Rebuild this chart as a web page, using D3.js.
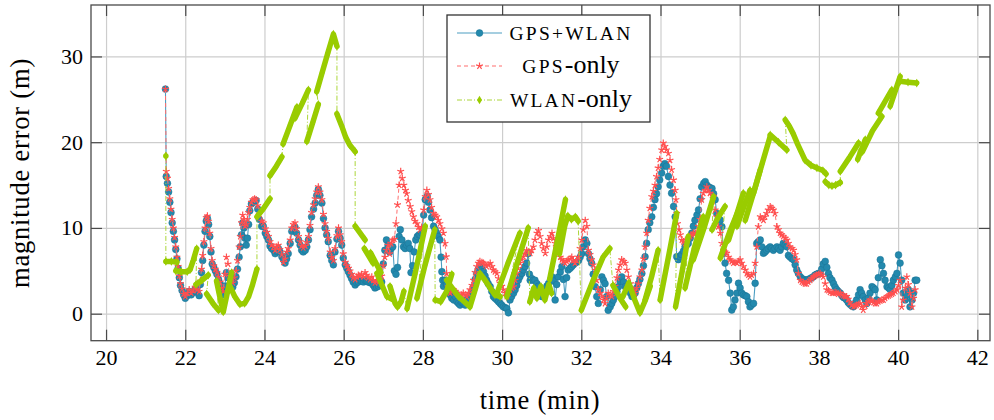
<!DOCTYPE html>
<html><head><meta charset="utf-8">
<script src="https://cdn.jsdelivr.net/npm/d3@7"></script>
<style>
body{margin:0;background:#fff}
svg{display:block}
text{font-family:"Liberation Serif","Times New Roman",serif;fill:#000}
</style></head><body>
<svg id="c" width="994" height="420"></svg>
<script>
// ---------------- data ----------------
const xTicks = [20,22,24,26,28,30,32,34,36,38,40,42];
const yTicks = [0,10,20,30];
const xLabel = "time (min)";
const yLabel = "magnitude error (m)";
const legendLabels = [["GPS+WLAN",""],["GPS","-only"],["WLAN","-only"]];

// GPS+WLAN : [time (min), error (m)]
const gpsWlan = [[21.50,26.2],[21.52,16.0],[21.55,15.2],[21.58,14.2],[21.61,13.0],[21.64,11.8],[21.67,10.6],[21.70,9.6],[21.73,8.6],[21.76,7.5],[21.79,6.4],[21.82,5.3],[21.85,4.2],[21.88,3.3],[21.92,2.7],[21.96,2.2],[22.00,1.8],[22.05,2.1],[22.10,2.6],[22.15,2.2],[22.20,2.5],[22.25,2.9],[22.30,2.5],[22.35,2.1],[22.38,3.4],[22.41,4.8],[22.44,6.2],[22.47,8.0],[22.50,9.6],[22.53,10.8],[22.56,11.1],[22.59,10.4],[22.62,9.0],[22.65,7.2],[22.68,5.8],[22.72,5.4],[22.76,5.0],[22.80,4.6],[22.84,4.0],[22.88,3.5],[22.92,2.8],[22.96,2.2],[23.00,3.2],[23.04,4.8],[23.08,4.2],[23.12,3.4],[23.16,2.9],[23.20,3.1],[23.24,3.6],[23.28,4.3],[23.32,5.2],[23.36,6.6],[23.39,7.8],[23.42,9.2],[23.45,10.6],[23.48,10.0],[23.51,8.8],[23.54,8.0],[23.57,8.8],[23.60,10.4],[23.63,12.0],[23.67,12.8],[23.71,13.0],[23.75,13.1],[23.79,13.2],[23.83,12.2],[23.87,11.0],[23.93,10.2],[23.97,10.2],[24.02,9.4],[24.06,9.0],[24.10,8.6],[24.14,7.9],[24.18,7.6],[24.23,7.4],[24.27,7.0],[24.31,7.3],[24.35,7.6],[24.39,7.2],[24.44,6.65],[24.48,6.3],[24.52,5.9],[24.56,6.4],[24.60,7.0],[24.65,8.2],[24.69,9.6],[24.73,9.9],[24.77,10.1],[24.81,9.4],[24.86,8.6],[24.90,8.0],[24.94,7.4],[24.98,7.2],[25.03,7.4],[25.07,7.8],[25.11,8.6],[25.15,9.8],[25.19,11.3],[25.24,12.2],[25.28,12.9],[25.32,13.8],[25.36,14.5],[25.40,13.8],[25.45,12.9],[25.49,11.1],[25.53,10.0],[25.57,9.2],[25.61,8.4],[25.66,6.8],[25.70,6.2],[25.74,5.7],[25.78,7.2],[25.83,8.7],[25.87,9.6],[25.91,8.8],[25.95,8.0],[25.99,6.5],[26.04,5.7],[26.08,5.3],[26.12,4.9],[26.16,4.5],[26.20,4.1],[26.24,3.7],[26.29,3.35],[26.33,3.6],[26.37,3.7],[26.41,3.9],[26.45,3.8],[26.50,3.7],[26.54,3.9],[26.58,3.8],[26.62,3.7],[26.67,3.6],[26.71,3.6],[26.75,3.3],[26.79,3.0],[26.83,3.1],[26.88,3.2],[26.92,3.4],[26.96,3.7],[27.00,5.8],[27.04,7.4],[27.08,8.6],[27.12,8.0],[27.16,7.2],[27.20,7.6],[27.24,7.8],[27.28,5.0],[27.32,4.6],[27.36,5.4],[27.40,9.0],[27.43,9.8],[27.47,8.6],[27.51,7.8],[27.55,7.6],[27.59,8.0],[27.63,8.2],[27.67,7.6],[27.70,4.8],[27.74,5.6],[27.78,7.2],[27.82,8.6],[27.86,9.0],[27.90,9.2],[27.93,9.2],[27.97,9.4],[28.02,11.5],[28.06,13.3],[28.11,13.7],[28.14,13.0],[28.18,12.1],[28.22,11.2],[28.27,10.2],[28.31,9.8],[28.35,9.4],[28.39,9.0],[28.43,8.6],[28.46,6.6],[28.48,4.9],[28.50,3.9],[28.52,3.2],[28.56,3.9],[28.60,3.4],[28.65,2.8],[28.69,2.2],[28.73,1.8],[28.78,1.6],[28.82,2.0],[28.86,1.4],[28.90,1.2],[28.94,1.0],[28.98,1.3],[29.02,1.2],[29.07,1.0],[29.11,1.6],[29.15,1.8],[29.19,2.2],[29.24,2.6],[29.28,3.15],[29.32,4.0],[29.36,4.7],[29.40,5.2],[29.44,5.5],[29.49,5.2],[29.53,4.9],[29.57,4.4],[29.61,3.9],[29.65,3.5],[29.70,3.15],[29.74,2.6],[29.78,2.0],[29.82,1.8],[29.87,1.6],[29.91,1.4],[29.95,1.2],[29.99,1.0],[30.03,0.8],[30.08,0.7],[30.12,0.6],[30.16,0.1],[30.20,1.6],[30.24,2.0],[30.29,2.4],[30.33,2.8],[30.37,3.3],[30.41,3.9],[30.45,4.3],[30.50,4.7],[30.54,5.1],[30.58,5.5],[30.62,5.9],[30.66,7.0],[30.69,4.6],[30.71,3.9],[30.75,4.1],[30.79,3.9],[30.83,3.9],[30.88,3.5],[30.92,3.2],[30.96,2.6],[31.00,2.0],[31.04,2.4],[31.09,2.8],[31.13,3.2],[31.17,3.5],[31.22,3.9],[31.26,4.3],[31.30,3.8],[31.34,1.6],[31.38,3.4],[31.42,4.3],[31.47,4.9],[31.51,5.5],[31.55,4.0],[31.59,2.0],[31.63,4.2],[31.67,5.1],[31.72,5.3],[31.76,5.5],[31.80,5.7],[31.84,5.9],[31.88,6.0],[31.93,6.2],[31.97,6.6],[32.01,7.0],[32.05,7.8],[32.10,8.6],[32.14,8.2],[32.18,7.0],[32.22,6.4],[32.26,5.9],[32.30,4.6],[32.35,3.15],[32.39,2.0],[32.43,1.2],[32.48,2.8],[32.52,4.3],[32.56,3.9],[32.60,3.5],[32.64,2.0],[32.68,0.4],[32.73,0.8],[32.77,1.2],[32.81,1.6],[32.85,2.0],[32.90,2.6],[32.94,3.15],[32.98,3.8],[33.02,4.3],[33.07,3.7],[33.11,3.15],[33.15,3.0],[33.19,2.8],[33.24,2.4],[33.28,2.0],[33.32,2.2],[33.36,2.4],[33.40,3.0],[33.44,3.5],[33.48,4.0],[33.53,4.7],[33.57,5.6],[33.61,6.65],[33.65,8.2],[33.69,9.8],[33.73,10.6],[33.78,11.3],[33.82,12.4],[33.86,13.3],[33.90,14.0],[33.94,14.8],[33.98,15.6],[34.03,16.4],[34.07,17.2],[34.11,17.5],[34.15,17.2],[34.20,16.0],[34.24,15.0],[34.28,14.05],[34.33,12.5],[34.37,11.3],[34.41,6.65],[34.45,6.3],[34.49,6.65],[34.53,6.9],[34.58,7.3],[34.62,7.8],[34.66,8.0],[34.70,8.2],[34.75,8.8],[34.79,9.4],[34.83,10.2],[34.87,10.9],[34.92,11.5],[34.96,12.1],[35.00,13.4],[35.04,14.8],[35.09,15.2],[35.13,15.4],[35.17,15.0],[35.21,14.8],[35.25,14.7],[35.30,14.6],[35.34,14.0],[35.38,13.3],[35.42,11.7],[35.46,11.3],[35.51,10.9],[35.55,10.15],[35.59,7.05],[35.63,5.9],[35.67,4.7],[35.72,3.9],[35.76,2.4],[35.80,0.43],[35.84,0.8],[35.88,1.6],[35.93,2.4],[35.97,3.55],[36.01,3.0],[36.05,2.4],[36.09,2.2],[36.14,2.1],[36.18,2.0],[36.22,1.4],[36.26,0.8],[36.30,1.0],[36.35,1.2],[36.39,3.55],[36.43,8.2],[36.47,8.4],[36.52,8.6],[36.56,7.8],[36.60,7.05],[36.64,7.2],[36.68,7.4],[36.72,7.6],[36.77,7.8],[36.81,7.6],[36.85,7.4],[36.89,7.6],[36.94,7.8],[36.98,7.6],[37.02,7.4],[37.06,7.8],[37.10,8.2],[37.15,8.0],[37.19,7.8],[37.23,6.8],[37.27,6.6],[37.32,6.4],[37.36,6.3],[37.40,5.7],[37.44,5.1],[37.48,4.7],[37.53,4.3],[37.57,4.1],[37.61,4.0],[37.65,3.9],[37.69,3.9],[37.73,4.0],[37.78,4.1],[37.82,4.2],[37.86,4.3],[37.90,4.5],[37.94,4.6],[37.99,4.7],[38.03,4.7],[38.07,5.2],[38.11,5.8],[38.16,6.1],[38.20,5.4],[38.24,4.7],[38.28,4.2],[38.33,3.9],[38.37,3.5],[38.41,3.1],[38.45,2.8],[38.49,2.6],[38.54,2.4],[38.58,2.1],[38.62,1.9],[38.66,1.8],[38.70,1.6],[38.74,1.3],[38.78,1.1],[38.83,0.9],[38.87,0.8],[38.91,1.2],[38.95,1.6],[39.00,2.2],[39.04,2.8],[39.08,2.4],[39.12,2.0],[39.17,1.6],[39.21,1.2],[39.25,1.8],[39.29,2.4],[39.34,3.15],[39.38,3.0],[39.42,2.8],[39.46,1.6],[39.50,4.2],[39.55,6.3],[39.59,5.6],[39.63,4.7],[39.67,3.9],[39.72,3.15],[39.76,3.0],[39.80,2.8],[39.84,3.3],[39.88,3.9],[39.93,4.3],[39.97,4.7],[40.01,6.85],[40.05,5.9],[40.09,3.9],[40.13,2.4],[40.18,1.6],[40.22,2.2],[40.26,2.8],[40.30,0.8],[40.35,1.6],[40.39,2.4],[40.43,3.9],[40.47,3.9]];

// GPS-only : [time (min), error (m)]
const gpsOnly = [[21.50,26.2],[21.52,16.6],[21.55,15.8],[21.58,14.6],[21.61,13.4],[21.64,12.2],[21.67,11.0],[21.70,10.0],[21.73,8.9],[21.76,7.8],[21.79,6.6],[21.82,5.5],[21.85,4.4],[21.88,3.5],[21.92,2.9],[21.96,2.3],[22.00,2.0],[22.05,2.4],[22.10,2.8],[22.15,2.4],[22.20,2.7],[22.25,3.1],[22.30,2.8],[22.35,2.6],[22.38,3.8],[22.41,5.2],[22.44,6.8],[22.47,8.4],[22.50,10.0],[22.53,11.2],[22.56,11.4],[22.59,10.8],[22.62,9.4],[22.65,7.6],[22.68,6.2],[22.72,5.6],[22.76,5.2],[22.80,4.8],[22.84,4.3],[22.88,3.7],[22.92,3.0],[22.96,2.6],[23.00,4.6],[23.04,6.6],[23.08,5.8],[23.12,4.4],[23.16,3.8],[23.20,3.6],[23.24,4.2],[23.28,5.0],[23.32,6.2],[23.36,7.8],[23.39,9.0],[23.42,10.6],[23.45,11.5],[23.48,11.0],[23.51,10.2],[23.54,10.4],[23.57,11.0],[23.60,11.8],[23.63,12.4],[23.67,13.0],[23.71,13.3],[23.75,13.4],[23.79,13.3],[23.83,12.6],[23.87,11.6],[23.93,10.8],[23.97,10.6],[24.02,9.9],[24.06,9.5],[24.10,9.0],[24.14,8.4],[24.18,8.0],[24.23,7.8],[24.27,7.4],[24.31,7.8],[24.35,8.0],[24.39,7.5],[24.44,6.9],[24.48,6.0],[24.52,6.4],[24.56,7.2],[24.60,7.6],[24.65,8.6],[24.69,10.0],[24.73,10.4],[24.77,10.6],[24.81,9.9],[24.86,9.0],[24.90,8.4],[24.94,7.9],[24.98,7.7],[25.03,7.9],[25.07,8.3],[25.11,9.0],[25.15,10.3],[25.19,11.8],[25.24,12.7],[25.28,13.4],[25.32,14.2],[25.36,14.8],[25.40,14.2],[25.45,13.3],[25.49,11.6],[25.53,10.5],[25.57,9.6],[25.61,8.8],[25.66,7.2],[25.70,6.6],[25.74,6.2],[25.78,7.6],[25.83,9.1],[25.87,10.0],[25.91,9.2],[25.95,8.4],[25.99,7.0],[26.04,6.0],[26.08,5.6],[26.12,5.3],[26.16,5.0],[26.20,4.6],[26.24,4.2],[26.29,4.0],[26.33,4.3],[26.37,4.5],[26.41,4.4],[26.45,4.6],[26.50,4.3],[26.54,4.8],[26.58,4.5],[26.62,4.2],[26.67,4.0],[26.71,4.3],[26.75,3.9],[26.79,3.6],[26.83,3.8],[26.88,3.7],[26.92,3.9],[26.96,4.4],[27.00,5.6],[27.04,6.6],[27.08,7.4],[27.12,8.0],[27.16,7.0],[27.20,8.2],[27.24,8.6],[27.28,8.7],[27.32,10.5],[27.36,12.7],[27.40,15.0],[27.44,16.6],[27.48,15.8],[27.52,15.0],[27.56,14.4],[27.59,14.0],[27.63,13.2],[27.68,12.5],[27.72,11.9],[27.76,11.3],[27.80,10.8],[27.85,10.5],[27.89,10.1],[27.93,9.8],[27.97,10.1],[28.02,12.1],[28.06,13.65],[28.10,14.4],[28.14,13.9],[28.18,13.3],[28.22,12.4],[28.27,11.7],[28.31,11.5],[28.35,11.3],[28.39,10.9],[28.43,10.5],[28.48,9.9],[28.52,9.4],[28.56,8.2],[28.59,6.65],[28.60,4.7],[28.64,3.15],[28.69,2.4],[28.73,2.6],[28.77,2.8],[28.82,2.6],[28.86,2.4],[28.90,2.2],[28.94,2.0],[28.98,2.2],[29.02,2.4],[29.07,2.2],[29.11,2.0],[29.15,2.4],[29.19,2.8],[29.24,3.3],[29.28,3.9],[29.32,4.8],[29.36,5.5],[29.40,5.9],[29.44,6.1],[29.49,6.0],[29.53,5.9],[29.57,5.7],[29.61,5.5],[29.65,5.7],[29.70,5.9],[29.74,5.5],[29.78,5.1],[29.82,4.9],[29.87,4.7],[29.91,4.1],[29.95,3.55],[29.99,3.2],[30.03,2.8],[30.08,2.4],[30.12,2.0],[30.16,2.4],[30.20,2.8],[30.24,3.0],[30.29,3.15],[30.33,3.9],[30.37,4.7],[30.41,5.3],[30.45,5.9],[30.50,6.3],[30.54,6.65],[30.58,7.0],[30.62,7.4],[30.66,7.2],[30.71,7.05],[30.75,7.4],[30.79,7.8],[30.83,8.6],[30.88,9.4],[30.92,9.7],[30.96,9.0],[31.00,8.2],[31.04,7.6],[31.09,7.05],[31.13,7.8],[31.17,8.6],[31.22,9.0],[31.26,9.4],[31.30,8.8],[31.34,8.2],[31.38,7.6],[31.42,7.05],[31.47,6.6],[31.51,6.3],[31.55,6.1],[31.59,5.9],[31.63,6.1],[31.67,6.3],[31.72,6.4],[31.76,6.6],[31.80,6.2],[31.84,5.9],[31.88,6.2],[31.93,6.6],[31.97,7.6],[32.01,8.6],[32.05,9.8],[32.10,10.9],[32.14,10.2],[32.18,7.4],[32.22,6.9],[32.26,6.3],[32.30,5.7],[32.35,5.1],[32.39,3.9],[32.43,2.8],[32.48,2.4],[32.52,2.0],[32.56,1.6],[32.60,1.2],[32.64,1.8],[32.68,2.4],[32.73,2.2],[32.77,2.0],[32.81,2.6],[32.85,3.2],[32.90,4.2],[32.94,5.1],[32.98,5.7],[33.02,6.3],[33.07,6.1],[33.11,5.9],[33.15,5.1],[33.19,4.3],[33.24,3.5],[33.28,2.8],[33.32,2.6],[33.36,2.4],[33.40,3.0],[33.44,3.5],[33.48,4.3],[33.53,5.1],[33.57,6.4],[33.61,7.8],[33.65,9.4],[33.69,10.9],[33.73,12.3],[33.78,13.65],[33.82,14.3],[33.86,15.0],[33.90,16.0],[33.94,17.0],[33.98,18.0],[34.03,19.1],[34.07,19.9],[34.11,19.5],[34.15,19.1],[34.20,18.7],[34.24,17.9],[34.28,16.8],[34.33,15.6],[34.37,14.4],[34.39,13.3],[34.41,11.7],[34.43,10.5],[34.47,9.8],[34.50,9.2],[34.54,8.6],[34.58,8.4],[34.62,8.2],[34.66,8.6],[34.70,8.8],[34.75,9.0],[34.79,9.2],[34.83,9.4],[34.88,9.4],[34.92,9.4],[34.96,10.2],[35.00,11.0],[35.04,13.3],[35.08,14.05],[35.13,14.4],[35.17,14.8],[35.21,14.4],[35.25,14.05],[35.30,13.8],[35.34,13.65],[35.38,12.1],[35.42,11.3],[35.46,10.15],[35.51,9.4],[35.55,8.2],[35.59,7.4],[35.63,7.2],[35.67,7.05],[35.72,6.6],[35.76,6.3],[35.80,6.1],[35.84,5.9],[35.88,6.0],[35.93,5.9],[35.97,6.1],[36.01,6.3],[36.05,5.9],[36.09,5.5],[36.14,5.1],[36.18,4.7],[36.22,4.5],[36.26,4.3],[36.30,4.5],[36.35,4.7],[36.39,5.9],[36.43,7.8],[36.47,10.15],[36.52,11.3],[36.56,11.1],[36.60,10.9],[36.64,11.3],[36.68,11.7],[36.72,12.1],[36.77,12.5],[36.81,12.3],[36.85,12.1],[36.89,11.7],[36.94,10.15],[36.98,9.8],[37.02,9.4],[37.06,9.2],[37.10,9.0],[37.15,8.8],[37.19,8.6],[37.23,8.2],[37.27,7.8],[37.32,7.6],[37.36,7.4],[37.40,6.9],[37.44,6.3],[37.48,4.7],[37.53,3.9],[37.57,3.7],[37.61,3.6],[37.65,3.5],[37.69,3.5],[37.73,3.7],[37.78,3.9],[37.82,4.1],[37.86,4.3],[37.90,4.4],[37.94,4.5],[37.99,4.6],[38.03,4.7],[38.07,4.5],[38.11,4.3],[38.16,3.5],[38.20,2.8],[38.24,2.7],[38.28,2.5],[38.33,2.4],[38.37,2.4],[38.41,2.5],[38.45,2.4],[38.49,2.3],[38.54,2.4],[38.58,2.2],[38.62,2.1],[38.66,2.0],[38.70,2.0],[38.74,1.7],[38.78,1.3],[38.83,1.0],[38.87,0.8],[38.91,0.9],[38.95,1.0],[39.00,1.1],[39.04,1.2],[39.08,0.8],[39.12,0.43],[39.17,0.9],[39.21,1.2],[39.25,1.4],[39.29,1.6],[39.34,1.5],[39.38,1.3],[39.42,1.2],[39.46,1.2],[39.50,1.4],[39.55,1.5],[39.59,1.6],[39.63,1.6],[39.67,1.8],[39.72,2.0],[39.76,2.1],[39.80,2.2],[39.84,2.3],[39.88,2.4],[39.93,2.6],[39.97,2.8],[40.01,3.3],[40.05,3.9],[40.09,0.8],[40.13,1.6],[40.18,3.0],[40.22,4.3],[40.26,3.4],[40.30,2.4],[40.35,0.8],[40.39,1.8],[40.43,2.8]];

// WLAN-only : dense runs of samples [time (min), error (m)], in time order
const wlanOnlyRuns = [
 [[21.51,18.4]],
 [[21.51,6.1],[21.65,6.1],[21.79,6.0]],
 [[21.76,5.0],[21.90,4.9],[22.05,4.9],[22.12,5.1],[22.20,6.2],[22.29,7.6]],
 [[22.27,3.4],[22.42,3.9],[22.58,4.5]],
 [[22.54,2.3],[22.70,1.2],[22.84,0.4]],
 [[22.79,3.8],[22.88,1.8],[22.96,0.2],[23.06,2.4],[23.17,4.8]],
 [[23.13,3.2],[23.25,2.0],[23.38,1.1],[23.50,1.2],[23.60,2.0],[23.70,3.4],[23.81,5.2]],
 [[23.81,11.3],[23.98,12.3],[24.14,13.4]],
 [[24.14,16.1],[24.30,17.2],[24.44,18.3]],
 [[24.47,19.8],[24.65,22.0],[24.82,24.1]],
 [[24.77,22.8],[24.95,24.5],[25.11,26.1]],
 [[25.07,20.1],[25.22,22.3],[25.36,24.4]],
 [[25.32,25.9],[25.45,28.0],[25.60,30.4],[25.74,32.6],[25.83,31.2]],
 [[25.83,23.3],[25.95,21.9],[26.05,20.6],[26.15,19.7],[26.29,18.9]],
 [[26.29,10.2],[26.54,8.6]],
 [[26.52,7.6],[26.74,5.9]],
 [[26.68,7.1],[26.94,4.8]],
 [[26.84,4.7],[27.09,2.0],[27.26,1.6]],
 [[27.17,3.2],[27.30,1.2],[27.36,0.8],[27.45,1.4],[27.52,2.6]],
 [[27.60,0.6],[27.80,4.6],[28.06,10.2]],
 [[27.85,1.8],[28.05,5.6],[28.30,9.8]],
 [[28.31,1.6],[28.45,1.4],[28.60,2.6],[28.73,4.6]],
 [[28.60,3.9],[28.90,2.0],[29.19,0.8],[29.32,2.8],[29.44,4.7],[29.57,3.9],[29.70,3.0],[29.82,2.2],[29.95,2.0]],
 [[29.87,2.4],[30.15,5.9],[30.45,9.4]],
 [[30.12,2.0],[30.40,6.2],[30.66,10.0]],
 [[30.70,1.4],[30.80,3.0],[30.88,1.8],[30.98,3.2],[31.08,1.6],[31.18,3.4],[31.25,2.4]],
 [[31.20,4.0],[31.40,8.6],[31.60,13.3]],
 [[31.45,7.0],[31.58,10.2],[31.66,11.4],[31.75,11.0],[31.85,11.3],[31.92,10.8]],
 [[32.00,0.4],[32.30,3.9],[32.55,6.6],[32.72,7.6]],
 [[32.80,3.3],[32.98,1.8],[33.12,0.8]],
 [[33.05,2.0],[33.20,3.6],[33.35,1.6],[33.48,0.1],[33.62,1.6],[33.74,3.2]],
 [[33.61,1.6],[33.78,4.4],[33.94,7.4]],
 [[33.99,1.6],[34.20,6.6],[34.41,11.7]],
 [[34.38,0.8],[34.55,5.0],[34.70,9.0]],
 [[34.62,3.0],[34.85,7.6],[35.08,11.3]],
 [[34.83,6.3],[35.10,10.0],[35.34,13.65]],
 [[35.30,9.8],[35.45,11.2],[35.63,12.5]],
 [[35.51,6.5],[35.75,9.6],[36.01,12.5]],
 [[35.72,8.6],[35.90,11.2],[36.09,14.05]],
 [[35.93,10.2],[36.10,12.4],[36.26,14.4]],
 [[36.14,10.9],[36.33,13.8],[36.52,16.8]],
 [[36.35,14.05],[36.56,17.4],[36.77,20.7]],
 [[36.77,20.85],[36.98,20.0],[37.19,19.1]],
 [[37.15,22.6],[37.25,21.9],[37.35,21.0],[37.45,19.9],[37.55,18.9],[37.65,17.9],[37.80,17.3],[37.95,17.0],[38.10,16.7],[38.18,16.3]],
 [[38.16,15.4],[38.25,15.0],[38.33,14.9],[38.42,15.0],[38.54,15.3]],
 [[38.54,16.6],[38.77,18.2],[39.00,19.9]],
 [[38.98,18.0],[39.17,20.3]],
 [[39.10,18.9],[39.35,21.3],[39.59,23.0]],
 [[39.50,23.4],[39.84,26.1]],
 [[39.80,24.2],[40.05,27.65]],
 [[40.05,27.1],[40.25,27.0],[40.47,26.9]]
];

// ---------------- drawing ----------------
const plot = {left:91, right:990, top:5, bottom:340.7};
const x = d3.scaleLinear().domain([19.62, 42.32]).range([plot.left, plot.right]);
const y = d3.scaleLinear().domain([-3.15, 36.0]).range([plot.bottom, plot.top]);
const svg = d3.select("#c");

const C = {
  blue:"#2389ad", blueLine:"#4c9ec2", blueEdge:"#1b7395",
  red:"#ff4f4f", redLine:"#ff6e6e",
  green:"#99cc00", greenLine:"#acd63a",
  grid:"#cdcdcd", axis:"#4a4a4a"
};

// grid
svg.append("g").attr("transform",`translate(0,${plot.bottom})`)
  .call(d3.axisBottom(x).tickValues(xTicks).tickSize(-(plot.bottom-plot.top)).tickFormat(""))
  .call(g=>{g.select(".domain").remove();g.selectAll("line").attr("stroke",C.grid).attr("stroke-width",1.2);});
svg.append("g").attr("transform",`translate(${plot.left},0)`)
  .call(d3.axisLeft(y).tickValues(yTicks).tickSize(-(plot.right-plot.left)).tickFormat(""))
  .call(g=>{g.select(".domain").remove();g.selectAll("line").attr("stroke",C.grid).attr("stroke-width",1.2);});

// clip
svg.append("defs").append("clipPath").attr("id","clip").append("rect")
  .attr("x",plot.left).attr("y",plot.top).attr("width",plot.right-plot.left).attr("height",plot.bottom-plot.top);
const data = svg.append("g").attr("clip-path","url(#clip)");

const line = d3.line().x(d=>x(d[0])).y(d=>y(d[1]));

function starPath(s){
  let p="";
  for(let k=0;k<5;k++){const a=(-90+72*k)*Math.PI/180;p+=`M0,0L${(s*Math.cos(a)).toFixed(2)},${(s*Math.sin(a)).toFixed(2)}`;}
  return p;
}
const diamond = d3.symbol().type(d3.symbolDiamond).size(22)();

// GPS+WLAN
data.append("path").datum(gpsWlan).attr("d",line).attr("fill","none").attr("stroke",C.blueLine).attr("stroke-width",1.1);
data.append("g").selectAll("circle").data(gpsWlan).join("circle")
  .attr("cx",d=>x(d[0])).attr("cy",d=>y(d[1])).attr("r",3.4)
  .attr("fill",C.blue).attr("stroke",C.blueEdge).attr("stroke-width",0.5);

// GPS-only
data.append("path").datum(gpsOnly).attr("d",line).attr("fill","none").attr("stroke",C.redLine)
  .attr("stroke-width",1).attr("stroke-dasharray","4,3");
data.append("g").selectAll("path").data(gpsOnly).join("path")
  .attr("transform",d=>`translate(${x(d[0])},${y(d[1])})`).attr("d",starPath(3.6))
  .attr("fill","none").attr("stroke",C.red).attr("stroke-width",1.2);

// WLAN-only
const wlanAll = wlanOnlyRuns.flat();
data.append("path").datum(wlanAll).attr("d",line).attr("fill","none").attr("stroke",C.greenLine)
  .attr("stroke-width",1).attr("stroke-dasharray","5,2,1,2");
data.append("g").selectAll("path").data(wlanOnlyRuns).join("path")
  .attr("d",line).attr("fill","none").attr("stroke",C.green).attr("stroke-width",5.5)
  .attr("stroke-linecap","round").attr("stroke-linejoin","round");
data.append("g").selectAll("path").data(wlanAll).join("path")
  .attr("transform",d=>`translate(${x(d[0])},${y(d[1])})`).attr("d",diamond).attr("fill",C.green);

// axes with inward ticks
function styleAxis(g){g.select(".domain").remove();g.selectAll("line").attr("stroke",C.axis).attr("stroke-width",1.2);
  g.selectAll("text").attr("font-family",'"Liberation Serif",serif').attr("font-size",22).attr("fill","#000");}
svg.append("g").attr("transform",`translate(0,${plot.bottom})`)
  .call(d3.axisBottom(x).tickValues(xTicks).tickSizeInner(-11).tickSizeOuter(0).tickPadding(9)).call(styleAxis);
svg.append("g").attr("transform",`translate(0,${plot.top})`)
  .call(d3.axisTop(x).tickValues(xTicks).tickSizeInner(-11).tickSizeOuter(0).tickFormat("")).call(styleAxis);
svg.append("g").attr("transform",`translate(${plot.left},0)`)
  .call(d3.axisLeft(y).tickValues(yTicks).tickSizeInner(-11).tickSizeOuter(0).tickPadding(8)).call(styleAxis);
svg.append("g").attr("transform",`translate(${plot.right},0)`)
  .call(d3.axisRight(y).tickValues(yTicks).tickSizeInner(-11).tickSizeOuter(0).tickFormat("")).call(styleAxis);

svg.append("rect").attr("x",plot.left).attr("y",plot.top).attr("width",plot.right-plot.left).attr("height",plot.bottom-plot.top)
  .attr("fill","none").attr("stroke",C.axis).attr("stroke-width",1.3);

// axis labels
svg.append("text").attr("x",540).attr("y",409).attr("text-anchor","middle")
  .attr("font-size",26.5).attr("letter-spacing",0.8).text(xLabel);
svg.append("text").attr("transform","translate(29,173) rotate(-90)").attr("text-anchor","middle")
  .attr("font-size",26.5).attr("letter-spacing",0.8).text(yLabel);

// legend
const lg = svg.append("g");
lg.append("rect").attr("x",447).attr("y",15).attr("width",203).attr("height",107)
  .attr("fill","#fff").attr("stroke","#333").attr("stroke-width",1.3);
const rowsY = [33,66,100];
const styles = [
  {stroke:C.blueLine,dash:null,mark:"circle"},
  {stroke:C.redLine,dash:"4,3",mark:"star"},
  {stroke:C.greenLine,dash:"5,2,1,2",mark:"diamond"}
];
legendLabels.forEach((lab,i)=>{
  const yy = rowsY[i], st = styles[i];
  lg.append("line").attr("x1",457).attr("x2",502).attr("y1",yy).attr("y2",yy)
    .attr("stroke",st.stroke).attr("stroke-width",1.2).attr("stroke-dasharray",st.dash);
  if(st.mark==="circle") lg.append("circle").attr("cx",479.5).attr("cy",yy).attr("r",3.4).attr("fill",C.blue).attr("stroke",C.blueEdge).attr("stroke-width",0.5);
  if(st.mark==="star") lg.append("path").attr("transform",`translate(479.5,${yy})`).attr("d",starPath(3.6)).attr("fill","none").attr("stroke",C.red).attr("stroke-width",1.2);
  if(st.mark==="diamond") lg.append("path").attr("transform",`translate(479.5,${yy})`).attr("d",diamond).attr("fill",C.green);
  const t = lg.append("text").attr("x",571).attr("y",yy+7).attr("text-anchor","middle");
  t.append("tspan").attr("font-size",19.5).attr("letter-spacing",2.2).text(lab[0]);
  if(lab[1]) t.append("tspan").attr("font-size",26).text(lab[1]);
});
</script>
</body></html>
